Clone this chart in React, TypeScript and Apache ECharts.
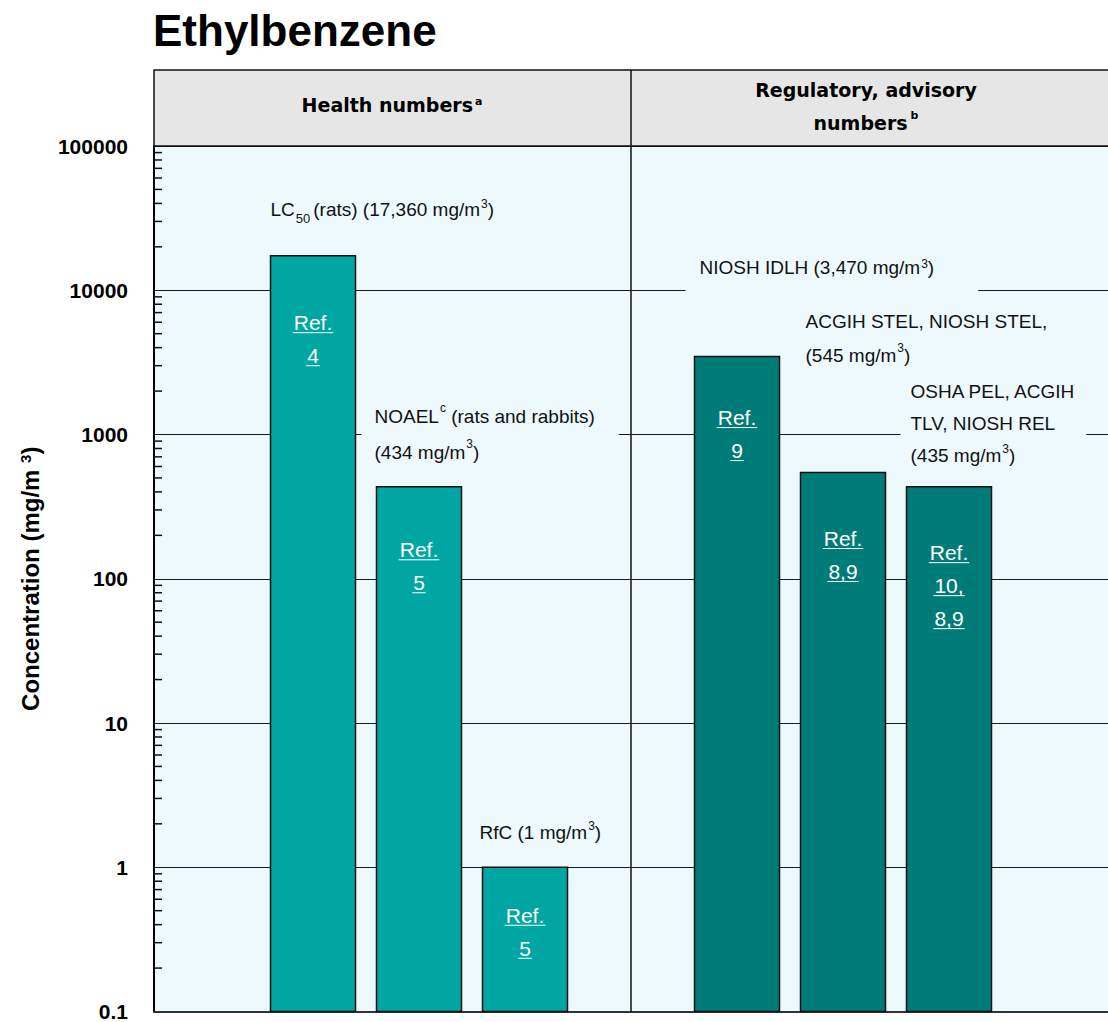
import React, { useEffect, useRef } from "react";
import * as echarts from "echarts";

// ---------- data ----------
const categories = ["", "LC50", "NOAEL", "RfC", "", "NIOSH IDLH", "ACGIH STEL", "OSHA PEL", ""];
const values: (number | null)[] = [null, 17360, 434, 1, null, 3470, 545, 435, null];
const groups = ["", "health", "health", "health", "", "reg", "reg", "reg", ""];
const annotations = [
  "",
  "LC{sub|50}(rats) (17,360 mg/m{sup|3})",
  "NOAEL{sup|c} (rats and rabbits)\n(434 mg/m{sup|3})",
  "RfC (1 mg/m{sup|3})",
  "",
  "NIOSH IDLH (3,470 mg/m{sup|3})",
  "ACGIH STEL, NIOSH STEL,\n(545 mg/m{sup|3})",
  "OSHA PEL, ACGIH\nTLV, NIOSH REL\n(435 mg/m{sup|3})",
  "",
];
const refs: string[][] = [[], ["Ref.", "4"], ["Ref.", "5"], ["Ref.", "5"], [], ["Ref.", "9"], ["Ref.", "8,9"], ["Ref.", "10,", "8,9"], []];
const minorMultipliers = [2, 3, 4, 5, 6, 7, 8, 9];
const decades = [0.1, 1, 10, 100, 1000, 10000];
const titleText = "Ethylbenzene";
const headerLeft = "Health numbers{sup|a}";
const headerRight = "Regulatory, advisory\nnumbers{sup|b}";
const yAxisName = "Concentration (mg/m {sup|3})";

// ---------- layout / style ----------
const FONT = "Liberation Sans";
const PLOT_BG = "#EDF9FD";
const HEADER_BG = "#E6E6E6";
const LIGHT = "#00A6A2";
const DARK = "#007C78";
const BAR_WIDTH = 85;
// per-bar annotation box layout relative to bar top-left
const annLayout: Record<number, { dx: number; dy: number; lh: number; pad: number[] }> = {
  1: { dx: 0, dy: -61, lh: 30, pad: [0, 4, 0, 0] },
  2: { dx: -15, dy: -90, lh: 36, pad: [2, 24, 0, 13] },
  3: { dx: -3, dy: -50, lh: 30, pad: [0, 0, 0, 0] },
  5: { dx: -9, dy: -104, lh: 26, pad: [2, 44, 26, 14] },
  6: { dx: 5, dy: -168, lh: 34, pad: [0, 0, 0, 0] },
  7: { dx: -6, dy: -113, lh: 32, pad: [2, 10, 0, 10] },
};
const refOffsets: Record<number, number> = { 1: 67, 2: 63, 3: 48, 5: 61, 6: 66, 7: 66 };

let measureCtx: CanvasRenderingContext2D | null = null;
function measure(text: string, font: string) {
  if (!measureCtx) measureCtx = document.createElement("canvas").getContext("2d");
  if (!measureCtx) return text.length * 10;
  measureCtx.font = font;
  return measureCtx.measureText(text).width;
}

export default function App() {
  const ref = useRef<HTMLDivElement>(null);
  useEffect(() => {
    document.body.style.margin = "0";
    if (!ref.current) return;
    const chart = echarts.init(ref.current, undefined, { renderer: "svg" });

    const annRich = {
      sup: { fontSize: 12, lineHeight: 12, verticalAlign: "top", padding: [3, 0, 0, 1], fontFamily: FONT, fill: "#111" },
      sub: { fontSize: 13, lineHeight: 13, verticalAlign: "bottom", padding: [0, 3, 0, 1], fontFamily: FONT, fill: "#111" },
    };

    const barData: number[][] = [];
    values.forEach((v, i) => {
      if (v != null) barData.push([i, v]);
    });

    const minorData: number[][] = [];
    decades.forEach((d) => minorMultipliers.forEach((m) => minorData.push([0, Number((d * m).toPrecision(6))])));

    const refFont = `21px "${FONT}"`;

    const option: any = {
      animation: false,
      title: {
        text: titleText,
        left: 153,
        top: 8,
        padding: 0,
        textStyle: { fontFamily: FONT, fontWeight: "bold", fontSize: 44, color: "#000" },
      },
      grid: {
        left: 154,
        right: -6,
        top: 146,
        bottom: 10,
        show: true,
        backgroundColor: PLOT_BG,
        borderWidth: 0,
        containLabel: false,
      },
      xAxis: {
        type: "category",
        data: categories,
        axisLabel: { show: false },
        axisTick: { show: false },
        axisLine: { show: true, lineStyle: { color: "#333", width: 2 } },
        splitLine: { show: false },
      },
      yAxis: {
        type: "log",
        logBase: 10,
        min: 0.1,
        max: 100000,
        name: yAxisName,
        nameLocation: "middle",
        nameGap: 112,
        nameRotate: 90,
        nameTextStyle: {
          fontFamily: FONT,
          fontWeight: "bold",
          fontSize: 24,
          color: "#000",
          rich: {
            sup: { fontFamily: FONT, fontWeight: "bold", fontSize: 15, lineHeight: 15, verticalAlign: "top", color: "#000" },
          },
        },
        axisLine: { show: true, lineStyle: { color: "#000", width: 2 } },
        axisTick: { show: false },
        axisLabel: {
          fontFamily: FONT,
          fontWeight: "bold",
          fontSize: 21,
          color: "#000",
          margin: 26,
          formatter: (v: number) => String(Number(v.toPrecision(6))),
        },
        splitLine: { show: true, lineStyle: { color: "#1a1a1a", width: 1 } },
      },
      series: [
        {
          type: "custom",
          data: barData,
          z: 2,
          silent: true,
          renderItem: (params: any, api: any) => {
            const idx = api.value(0);
            const pt = api.coord([idx, api.value(1)]);
            const cs = params.coordSys;
            const bottom = cs.y + cs.height;
            const x0 = pt[0] - BAR_WIDTH / 2;
            const l = annLayout[idx];
            const children: any[] = [];
            children.push({
              type: "rect",
              shape: { x: x0, y: pt[1], width: BAR_WIDTH, height: bottom - pt[1] },
              style: { fill: groups[idx] === "health" ? LIGHT : DARK, stroke: "#111", lineWidth: 1.5 },
            });
            // annotation label
            children.push({
              type: "text",
              x: x0 + l.dx,
              y: pt[1] + l.dy,
              z2: 10,
              style: {
                text: annotations[idx],
                fontFamily: FONT,
                fontSize: 19,
                fill: "#111",
                lineHeight: l.lh,
                backgroundColor: PLOT_BG,
                padding: l.pad,
                align: "left",
                verticalAlign: "top",
                rich: annRich,
              },
            });
            // Ref. labels
            refs[idx].forEach((t: string, k: number) => {
              const cy = pt[1] + refOffsets[idx] + k * 33;
              children.push({
                type: "text",
                x: pt[0],
                y: cy,
                z2: 5,
                style: { text: t, fill: "#fff", font: refFont, align: "center", verticalAlign: "middle" },
              });
              const w = measure(t, refFont) + 2;
              children.push({
                type: "line",
                z2: 5,
                shape: { x1: pt[0] - w / 2, y1: cy + 10, x2: pt[0] + w / 2, y2: cy + 10 },
                style: { stroke: "#fff", lineWidth: 1 },
              });
            });
            return { type: "group", children };
          },
        },
        {
          type: "custom",
          data: minorData,
          z: 6,
          silent: true,
          renderItem: (params: any, api: any) => {
            const y = api.coord([0, api.value(1)])[1];
            const x = params.coordSys.x;
            return {
              type: "line",
              shape: { x1: x, y1: y, x2: x + 8, y2: y },
              style: { stroke: "#111", lineWidth: 1.5 },
            };
          },
        },
      ],
      graphic: [
        {
          type: "rect",
          z: 100,
          shape: { x: 154, y: 70, width: 1000, height: 76 },
          style: { fill: HEADER_BG, stroke: "#111", lineWidth: 1.5 },
        },
        {
          type: "line",
          z: 101,
          shape: { x1: 631, y1: 70, x2: 631, y2: 1012 },
          style: { stroke: "#111", lineWidth: 1.5 },
        },
        {
          type: "text",
          z: 102,
          x: 392,
          y: 105,
          style: {
            text: headerLeft,
            fontFamily: "DejaVu Sans",
            fontWeight: "bold",
            fontSize: 19,
            fill: "#000",
            align: "center",
            verticalAlign: "middle",
            rich: {
              sup: { fontFamily: "DejaVu Sans", fontWeight: "bold", fontSize: 11, lineHeight: 11, verticalAlign: "top", fill: "#000", padding: [0, 0, 0, 2] },
            },
          },
        },
        {
          type: "text",
          z: 102,
          x: 866,
          y: 106,
          style: {
            text: headerRight,
            fontFamily: "DejaVu Sans",
            fontWeight: "bold",
            fontSize: 19,
            lineHeight: 33,
            fill: "#000",
            align: "center",
            verticalAlign: "middle",
            rich: {
              sup: { fontFamily: "DejaVu Sans", fontWeight: "bold", fontSize: 11, lineHeight: 11, verticalAlign: "top", fill: "#000", padding: [4, 0, 0, 3] },
            },
          },
        },
      ],
    };

    chart.setOption(option);
    return () => chart.dispose();
  }, []);

  return <div ref={ref} style={{ width: 1108, height: 1022 }} />;
}
